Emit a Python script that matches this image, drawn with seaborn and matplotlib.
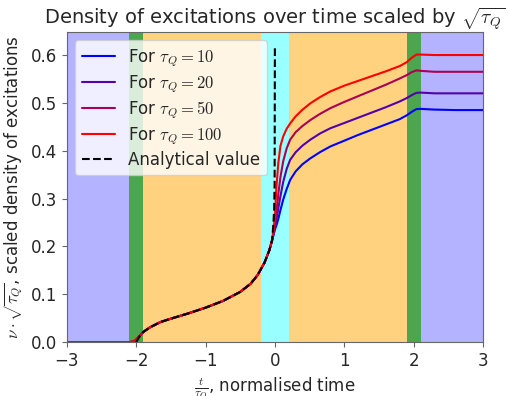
import numpy as np
import pandas as pd
import seaborn as sns
import matplotlib.pyplot as plt

sns.set_style("ticks")
plt.rcParams['mathtext.fontset'] = 'cm'
plt.rcParams['font.family'] = ['DejaVu Sans']

# shared part, before the transition (all tau_Q collapse on one curve)
t_pre = [-3.0, -2.1, -2.05, -2.0, -1.95, -1.9, -1.8, -1.65, -1.5, -1.25, -1.0,
         -0.75, -0.5, -0.35, -0.25, -0.15, -0.08, -0.04]
v_pre = [0.0, 0.0, 0.001, 0.005, 0.013, 0.021, 0.031, 0.042, 0.049, 0.06, 0.072,
         0.086, 0.105, 0.122, 0.14, 0.166, 0.192, 0.213]

# after the transition
t_post = [0.0, 0.02, 0.05, 0.08, 0.12, 0.17, 0.22, 0.3, 0.4, 0.51, 0.65, 0.8,
          1.0, 1.2, 1.4, 1.6, 1.8, 1.9, 1.97, 2.04, 2.1, 2.3, 2.6, 3.0]
v_tau10 = [0.235, 0.243, 0.258, 0.276, 0.298, 0.32, 0.339, 0.357, 0.372, 0.384,
           0.397, 0.409, 0.421, 0.433, 0.444, 0.455, 0.466, 0.474, 0.481, 0.487,
           0.4875, 0.486, 0.485, 0.485]
v_tau20 = [0.24, 0.255, 0.28, 0.305, 0.335, 0.362, 0.381, 0.397, 0.411, 0.423,
           0.436, 0.447, 0.458, 0.469, 0.48, 0.491, 0.503, 0.51, 0.516, 0.521,
           0.5215, 0.52, 0.52, 0.52]
v_tau50 = [0.245, 0.27, 0.31, 0.345, 0.378, 0.405, 0.423, 0.439, 0.452, 0.464,
           0.477, 0.489, 0.502, 0.514, 0.526, 0.538, 0.551, 0.558, 0.564, 0.568,
           0.567, 0.565, 0.565, 0.565]
v_tau100 = [0.26, 0.32, 0.375, 0.41, 0.43, 0.446, 0.457, 0.472, 0.486, 0.499,
            0.512, 0.524, 0.536, 0.546, 0.556, 0.566, 0.577, 0.585, 0.594, 0.601,
            0.601, 0.6, 0.6, 0.6]

# analytical value
t_ana = [-2.0, -1.95, -1.9, -1.8, -1.65, -1.5, -1.25, -1.0, -0.75, -0.5, -0.35,
         -0.25, -0.15, -0.08, -0.04, -0.02, -0.01, -0.004, 0.0]
v_ana = [0.0, 0.012, 0.021, 0.031, 0.042, 0.049, 0.06, 0.072, 0.086, 0.105, 0.122,
         0.14, 0.166, 0.192, 0.213, 0.25, 0.28, 0.33, 0.618]

taus = [10, 20, 50, 100]
series = [v_tau10, v_tau20, v_tau50, v_tau100]
colors = ['#0000ff', '#5500aa', '#aa0055', '#ff0000']

# background regions: (start, end, colour)
regions = [(-3, -2.1, '#b3b3ff'), (-2.1, -1.9, '#4da64d'), (-1.9, -0.2, '#ffd280'),
           (-0.2, 0.2, '#99ffff'), (0.2, 1.9, '#ffd280'), (1.9, 2.1, '#4da64d'),
           (2.1, 3, '#b3b3ff')]

fig, ax = plt.subplots(figsize=(5.1, 3.96), dpi=100)
fig.subplots_adjust(left=0.131, right=0.947, bottom=0.136, top=0.919)

for a, b, c in regions:
    ax.axvspan(a, b, color=c, lw=0, zorder=0)

for tau, v, c in zip(taus, series, colors):
    df = pd.DataFrame({'t': t_pre + t_post, 'v': v_pre + v})
    sns.lineplot(data=df, x='t', y='v', ax=ax, color=c, lw=1.5,
                 label=rf'For $\tau_Q = {tau}$')
sns.lineplot(x=t_ana, y=v_ana, ax=ax, color='black', lw=1.5, linestyle='--',
             label='Analytical value')

ax.set_xlim(-3, 3)
ax.set_ylim(0, 0.648)
ax.set_yticks([0.0, 0.1, 0.2, 0.3, 0.4, 0.5, 0.6])
ax.tick_params(labelsize=12, color='0.4')
for s in ax.spines.values():
    s.set_color('0.4')
ax.set_title(r'Density of excitations over time scaled by $\sqrt{\tau_Q}$', fontsize=14)
ax.set_xlabel(r'$\frac{t}{\tau_Q}$, normalised time', fontsize=12)
ax.set_ylabel(r'$\nu\cdot\sqrt{\tau_Q}$, scaled density of excitations', fontsize=12)
ax.legend(loc='upper left', fontsize=12, framealpha=0.8, labelspacing=0.25)

plt.savefig('out.png', dpi=100)
